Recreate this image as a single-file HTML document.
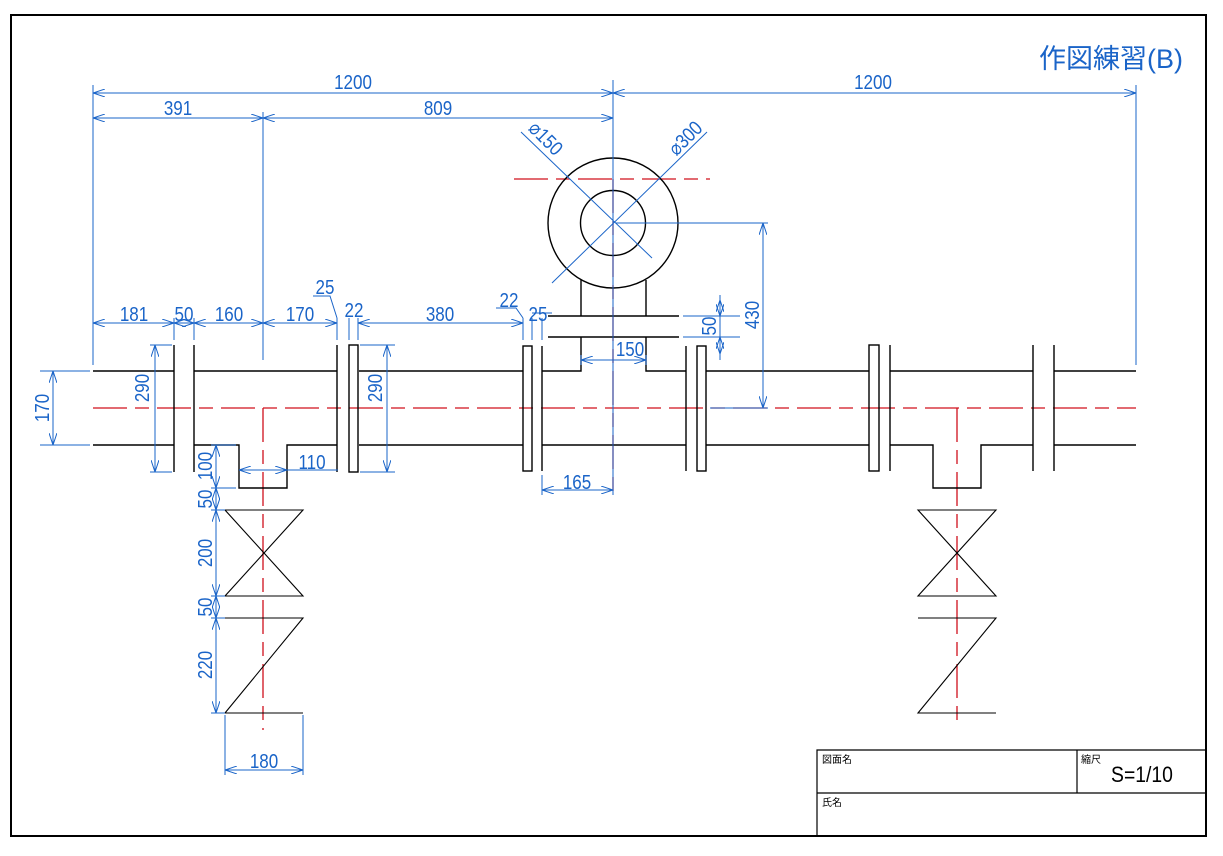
<!DOCTYPE html>
<html><head><meta charset="utf-8"><style>
html,body{margin:0;padding:0;background:#fff}
svg{display:block}
.k{stroke:#000;stroke-width:1.4;fill:none}
.r{stroke:#d0101c;stroke-width:1.3;fill:none;stroke-dasharray:34,8,14,8}
.b{stroke:#1a64c8;stroke-width:1;fill:none}
.d{stroke:#1a64c8;stroke-width:1;fill:none;marker-start:url(#a);marker-end:url(#a)}
.t{fill:#1a64c8;font-family:"Liberation Sans Narrow","Liberation Sans",sans-serif;font-size:20px;text-anchor:middle}
</style></head><body>
<svg width="1223" height="856" viewBox="0 0 1223 856" xmlns="http://www.w3.org/2000/svg">
<defs>
<marker id="a" viewBox="0 0 12 8" refX="12" refY="4" markerWidth="12" markerHeight="8" markerUnits="userSpaceOnUse" orient="auto-start-reverse">
<path d="M0,0 L12,4 L0,8" fill="none" stroke="#1a64c8" stroke-width="1"/>
</marker>
</defs>
<rect x="11" y="15" width="1195" height="821" fill="none" stroke="#000" stroke-width="2"/>
<path d="M817,836 V750 H1206 M817,793 H1206 M1077,750 V793" stroke="#000" stroke-width="1.2" fill="none"/>
<text x="822" y="763" font-size="10" font-family="'Liberation Sans','Noto Sans CJK JP',sans-serif">図面名</text>
<text x="1081" y="763" font-size="10" font-family="'Liberation Sans','Noto Sans CJK JP',sans-serif">縮尺</text>
<text x="1142" y="782" font-size="22" text-anchor="middle" font-family="'Liberation Sans Narrow','Liberation Sans',sans-serif" transform="translate(1142,0) scale(0.88,1) translate(-1142,0)">S=1/10</text>
<text x="822" y="806" font-size="10" font-family="'Liberation Sans','Noto Sans CJK JP',sans-serif">氏名</text>
<text x="1183" y="68" font-size="27" text-anchor="end" fill="#1a64c8" font-family="'Liberation Sans','Noto Sans CJK JP',sans-serif">作図練習(B)</text>

<path class="r" d="M93,408 H1136"/>
<path class="r" d="M263,408 V730"/>
<path class="r" d="M957,408 V725"/>
<path class="r" d="M613,179 V495"/>
<path class="r" d="M514,179 H710"/>

<path class="k" d="M93,371 H174 M93,445 H174"/>
<path class="k" d="M174,345 V472 M194,345 V472"/>
<path class="k" d="M194,371 H337 M194,445 H239 V488 H287 V445 H337"/>
<path class="k" d="M337,345 V472"/>
<rect class="k" x="349" y="345" width="9" height="127"/>
<path class="k" d="M359,371 H523 M359,445 H523"/>
<rect class="k" x="523" y="346" width="9" height="125"/>
<path class="k" d="M542,346 V471"/>
<path class="k" d="M542,371 H581 V337 M646,337 V371 H686 M542,445 H686"/>
<path class="k" d="M548,316 H679 M548,337 H679"/>
<path class="k" d="M581,316 V280 M646,316 V280"/>
<circle class="k" cx="613" cy="223" r="65"/>
<circle class="k" cx="613" cy="223" r="32.5"/>
<path class="k" d="M686,346 V471"/>
<rect class="k" x="697" y="346" width="9" height="125"/>
<path class="k" d="M706,371 H869 M706,445 H869"/>
<rect class="k" x="869" y="345" width="10" height="126"/>
<path class="k" d="M890,345 V471"/>
<path class="k" d="M890,371 H1033 M890,445 H933 V488 H981 V445 H1033"/>
<path class="k" d="M1033,345 V471 M1054,345 V471"/>
<path class="k" d="M1054,371 H1136 M1054,445 H1136"/>
<path class="k" d="M225,510 H303 L225,596 H303 Z" style="stroke-width:1.1"/>
<path class="k" d="M225,618 H303 L225,713 H303" style="stroke-width:1.1"/>
<path class="k" d="M918,510 H996 L918,596 H996 Z" style="stroke-width:1.1"/>
<path class="k" d="M918,618 H996 L918,713 H996" style="stroke-width:1.1"/>

<path class="b" d="M93,85 V365 M263,112 V360 M613,80 V495 M1136,85 V365"/>
<path class="b" d="M174,318 V340 M194,318 V340 M337,318 V340 M349,318 V340 M358,318 V340 M523,318 V340 M532,318 V340 M542,318 V340"/>
<path class="b" d="M40,371 H90 M40,445 H90 M150,345 H172 M150,472 H172 M360,345 H395 M360,472 H395"/>
<path class="b" d="M211,445 H236 M211,488 H236 M211,510 H225 M211,596 H225 M211,618 H225 M211,713 H225"/>
<path class="b" d="M287,470 H338 M225,715 V775 M303,715 V775 M542,475 V495"/>
<path class="b" d="M683,316 H740 M683,337 H740 M616,223 H768 M710,408 H768"/>
<path class="b" d="M581,355 V365 M646,355 V365"/>
<path class="b" d="M532,313 H552 M313,296 H330 L337,318 M496,308 H516 L523,318"/>

<path class="d" d="M93,93 H613"/><path class="d" d="M613,93 H1136"/>
<path class="d" d="M93,118 H263"/><path class="d" d="M263,118 H613"/>
<path class="d" d="M93,323 H174"/><path class="d" d="M174,323 H194"/><path class="d" d="M194,323 H263"/><path class="d" d="M263,323 H337"/>
<path class="d" d="M358,323 H523"/>
<path class="d" d="M53,371 V445"/>
<path class="d" d="M155,345 V472"/>
<path class="d" d="M387,345 V472"/>
<path class="d" d="M216,445 V488"/><path class="d" d="M216,488 V510"/><path class="d" d="M216,510 V596"/><path class="d" d="M216,596 V618"/><path class="d" d="M216,618 V713"/>
<path class="d" d="M239,470 H287"/>
<path class="d" d="M225,770 H303"/>
<path class="d" d="M542,490 H613"/>
<path class="d" d="M581,360 H646"/>
<path class="b" d="M720,295 V360"/>
<path class="d" d="M720,300 V316"/><path class="d" d="M720,354 V337"/>
<path class="d" d="M763,223 V408"/>
<path class="b" d="M521,132 L652,258"/>
<path class="b" d="M707,132 L552,283"/>

<g transform="scale(1,1)">
<text class="t" transform="translate(353,89) scale(0.85,1)">1200</text>
<text class="t" transform="translate(873,89) scale(0.85,1)">1200</text>
<text class="t" transform="translate(178,115) scale(0.85,1)">391</text>
<text class="t" transform="translate(438,115) scale(0.85,1)">809</text>
<text class="t" transform="translate(134,321) scale(0.85,1)">181</text>
<text class="t" transform="translate(184,321) scale(0.85,1)">50</text>
<text class="t" transform="translate(229,321) scale(0.85,1)">160</text>
<text class="t" transform="translate(300,321) scale(0.85,1)">170</text>
<text class="t" transform="translate(325,294) scale(0.85,1)">25</text>
<text class="t" transform="translate(354,317) scale(0.85,1)">22</text>
<text class="t" transform="translate(440,321) scale(0.85,1)">380</text>
<text class="t" transform="translate(509,307) scale(0.85,1)">22</text>
<text class="t" transform="translate(538,321) scale(0.85,1)">25</text>
<text class="t" transform="translate(630,356) scale(0.85,1)">150</text>
<text class="t" transform="translate(577,489) scale(0.85,1)">165</text>
<text class="t" transform="translate(312,469) scale(0.85,1)">110</text>
<text class="t" transform="translate(264,768) scale(0.85,1)">180</text>
<text class="t" transform="translate(49,408) rotate(-90) scale(0.85,1)">170</text>
<text class="t" transform="translate(149,388) rotate(-90) scale(0.85,1)">290</text>
<text class="t" transform="translate(382,388) rotate(-90) scale(0.85,1)">290</text>
<text class="t" transform="translate(212,466) rotate(-90) scale(0.85,1)">100</text>
<text class="t" transform="translate(212,499) rotate(-90) scale(0.85,1)">50</text>
<text class="t" transform="translate(212,553) rotate(-90) scale(0.85,1)">200</text>
<text class="t" transform="translate(212,607) rotate(-90) scale(0.85,1)">50</text>
<text class="t" transform="translate(212,665) rotate(-90) scale(0.85,1)">220</text>
<text class="t" transform="translate(716,326) rotate(-90) scale(0.85,1)">50</text>
<text class="t" transform="translate(759,315) rotate(-90) scale(0.85,1)">430</text>
<text class="t" transform="translate(541,143) rotate(45) scale(0.85,1)">⌀150</text>
<text class="t" transform="translate(690,143) rotate(-45) scale(0.85,1)">⌀300</text>
</g>
</svg>
</body></html>
